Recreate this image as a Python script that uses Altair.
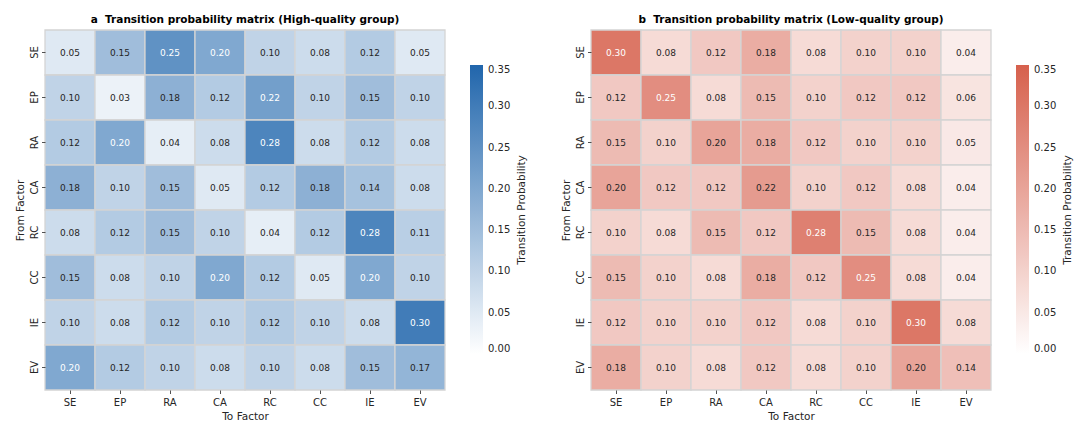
import altair as alt
import pandas as pd

factors = ["SE", "EP", "RA", "CA", "RC", "CC", "IE", "EV"]

high_quality = [
    [0.05, 0.15, 0.25, 0.20, 0.10, 0.08, 0.12, 0.05],
    [0.10, 0.03, 0.18, 0.12, 0.22, 0.10, 0.15, 0.10],
    [0.12, 0.20, 0.04, 0.08, 0.28, 0.08, 0.12, 0.08],
    [0.18, 0.10, 0.15, 0.05, 0.12, 0.18, 0.14, 0.08],
    [0.08, 0.12, 0.15, 0.10, 0.04, 0.12, 0.28, 0.11],
    [0.15, 0.08, 0.10, 0.20, 0.12, 0.05, 0.20, 0.10],
    [0.10, 0.08, 0.12, 0.10, 0.12, 0.10, 0.08, 0.30],
    [0.20, 0.12, 0.10, 0.08, 0.10, 0.08, 0.15, 0.17],
]

low_quality = [
    [0.30, 0.08, 0.12, 0.18, 0.08, 0.10, 0.10, 0.04],
    [0.12, 0.25, 0.08, 0.15, 0.10, 0.12, 0.12, 0.06],
    [0.15, 0.10, 0.20, 0.18, 0.12, 0.10, 0.10, 0.05],
    [0.20, 0.12, 0.12, 0.22, 0.10, 0.12, 0.08, 0.04],
    [0.10, 0.08, 0.15, 0.12, 0.28, 0.15, 0.08, 0.04],
    [0.15, 0.10, 0.08, 0.18, 0.12, 0.25, 0.08, 0.04],
    [0.12, 0.10, 0.10, 0.12, 0.08, 0.10, 0.30, 0.08],
    [0.18, 0.10, 0.08, 0.12, 0.08, 0.10, 0.20, 0.14],
]

colorbar_ticks = [0, 0.05, 0.10, 0.15, 0.20, 0.25, 0.30, 0.35]
colorbar_title = "Transition Probability"

VMAX = 0.35
LOW_END = "#ffffff"
BLUE = "#2166ac"
RED = "#d6604d"
FONT = "DejaVu Sans"
INK = "#262626"
W, H = 400, 360


def hex_rgb(h):
    h = h.lstrip("#")
    return [int(h[i:i + 2], 16) for i in (0, 2, 4)]


def luminance(rgb):
    lin = []
    for c in rgb:
        c = c / 255.0
        lin.append(c / 12.92 if c <= 0.03928 else ((c + 0.055) / 1.055) ** 2.4)
    return 0.2126 * lin[0] + 0.7152 * lin[1] + 0.0722 * lin[2]


def cell_colour(v, top):
    t = min(max(v / VMAX, 0), 1)
    a, b = hex_rgb(LOW_END), hex_rgb(top)
    return [a[k] + (b[k] - a[k]) * t for k in range(3)]


def frame(matrix, top):
    rows = []
    for i, src in enumerate(factors):
        for j, dst in enumerate(factors):
            v = matrix[i][j]
            # white annotation on dark cells, dark grey on light cells
            light_text = luminance(cell_colour(v, top)) <= 0.408
            rows.append({
                "from": src,
                "to": dst,
                "p": v,
                "label": f"{v:.2f}",
                "light": light_text,
            })
    return pd.DataFrame(rows)


def panel(matrix, top, title):
    df = frame(matrix, top)
    base = alt.Chart(df).encode(
        x=alt.X(
            "to:N",
            sort=factors,
            scale=alt.Scale(domain=factors, paddingInner=0, paddingOuter=0),
            title="To Factor",
            axis=alt.Axis(labelAngle=0, orient="bottom", labelPadding=4),
        ),
        y=alt.Y(
            "from:N",
            sort=factors,
            scale=alt.Scale(domain=factors, paddingInner=0, paddingOuter=0),
            title="From Factor",
            axis=alt.Axis(labelAngle=270),
        ),
    )
    rect = base.mark_rect(stroke="#d4d4d4", strokeWidth=1.3).encode(
        color=alt.Color(
            "p:Q",
            scale=alt.Scale(domain=[0, VMAX], range=[LOW_END, top], interpolate="rgb"),
            legend=alt.Legend(
                title=None,
                values=colorbar_ticks,
                format=".2f",
                orient="none",
                legendX=425,
                legendY=35,
                gradientLength=289,
                gradientThickness=13,
                gradientStrokeWidth=0,
                labelFont=FONT,
                labelFontSize=10,
                labelColor=INK,
                labelOffset=5,
                padding=0,
            ),
        )
    )
    text = base.mark_text(font=FONT, fontSize=9).encode(
        text="label:N",
        color=alt.condition("datum.light", alt.value("#ffffff"), alt.value(INK)),
    )
    cbar_label = (
        alt.Chart(pd.DataFrame({"t": [colorbar_title]}))
        .mark_text(font=FONT, fontSize=10.5, color=INK, angle=270, align="center", baseline="middle")
        .encode(text="t:N", x=alt.value(477), y=alt.value(180))
    )
    return alt.layer(rect, text, cbar_label).properties(
        width=W,
        height=H,
        title=alt.TitleParams(
            title,
            font=FONT,
            fontSize=10.5,
            fontWeight="bold",
            color="#000000",
            anchor="middle",
            offset=4,
        ),
    )


left = panel(high_quality, BLUE, "a\u00a0 Transition probability matrix (High-quality group)")
right = panel(low_quality, RED, "b\u00a0 Transition probability matrix (Low-quality group)")

chart = (
    alt.hconcat(left, right, spacing=33)
    .resolve_scale(color="independent")
    .configure_view(stroke=None)
    .configure_axis(
        labelFont=FONT,
        labelFontSize=10,
        labelColor=INK,
        titleFont=FONT,
        titleFontSize=10.5,
        titleFontWeight="normal",
        titleColor=INK,
        domain=False,
        tickColor=INK,
        tickSize=3.5,
        tickWidth=0.8,
        labelPadding=2,
        titlePadding=4,
    )
    .properties(padding={"left": 15, "top": 14, "right": 5, "bottom": 0}, background="#ffffff")
)

chart.save("out.html", embed_options={"renderer": "svg", "actions": False})
